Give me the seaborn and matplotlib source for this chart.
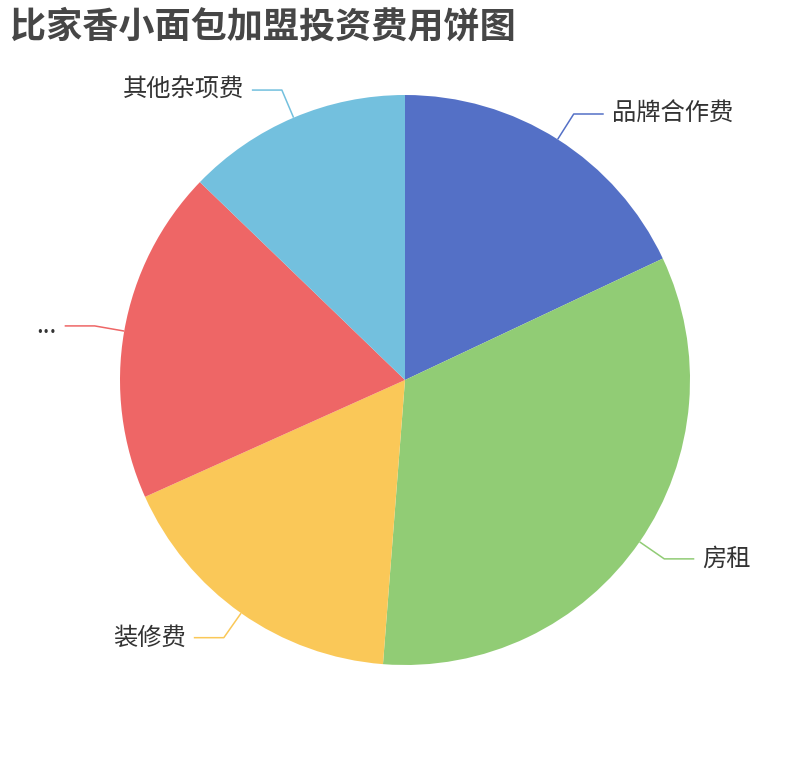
import numpy as np
import matplotlib
matplotlib.use("Agg")
import matplotlib.pyplot as plt
import seaborn as sns

sns.set_theme(style="white")
plt.rcParams["font.family"] = ["Noto Sans CJK SC", "DejaVu Sans"]

# -------------------------------------------------------
# data (万元)
# -------------------------------------------------------
names  = ["品牌合作费", "房租", "装修费", "...", "其他杂项费"]
values = [3.8, 7.02, 3.6, 4.0, 2.7]
colors = ["#5470c6", "#91cc75", "#fac858", "#ee6666", "#73c0de"]

W, H = 810, 760
cx, cy, R = 405, H - 380, 285

fig = plt.figure(figsize=(W / 100, H / 100), dpi=100)
ax = fig.add_axes([0, 0, 1, 1])

ax.pie(values, colors=colors, startangle=90, counterclock=False,
       center=(cx, cy), radius=R, wedgeprops=dict(linewidth=0))

# pie() resets the limits, so set pixel-like coords afterwards
ax.set_xlim(0, W)
ax.set_ylim(0, H)
ax.set_aspect("equal")
ax.axis("off")

# leader lines + labels, echarts style: radial piece then horizontal piece
total = sum(values)
ends = np.cumsum(values) / total * 360
starts = ends - np.array(values) / total * 360
for name, color, a0, a1 in zip(names, colors, starts, ends):
    mid = np.deg2rad((a0 + a1) / 2)
    dx, dy = np.sin(mid), np.cos(mid)
    p0 = (cx + R * dx, cy + R * dy)
    p1 = (cx + (R + 30) * dx, cy + (R + 30) * dy)
    side = 1 if dx >= 0 else -1
    p2 = (p1[0] + side * 30, p1[1])
    ax.plot([p0[0], p1[0], p2[0]], [p0[1], p1[1], p2[1]],
            color=color, lw=1.1, solid_capstyle="butt")
    ax.text(p2[0] + side * 8, p2[1], name,
            ha="left" if side > 0 else "right", va="center",
            fontsize=17.5, color="#333333")

fig.text(10 / W, 1 - 27 / H, "比家香小面包加盟投资费用饼图",
         fontsize=26, fontweight="bold", color="#464646",
         ha="left", va="center")

fig.savefig("out.png", dpi=100)
